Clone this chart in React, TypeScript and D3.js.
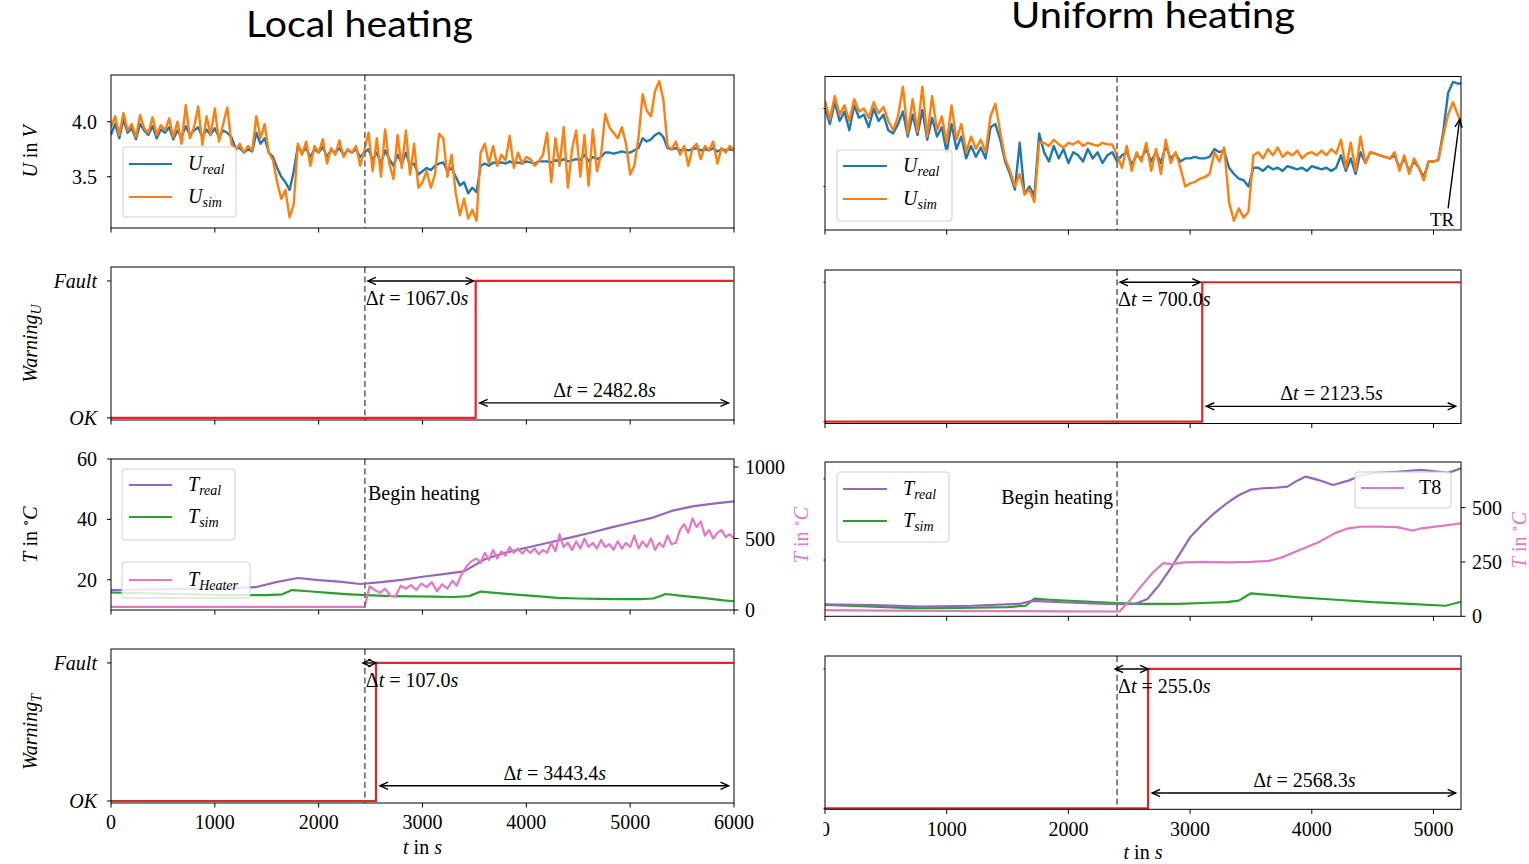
import React from "react";
import * as d3 from "d3";

type Pt = [number, number];

// ---------------- data ----------------
const SAMPLE_STEP_S = 40;

// Local heating: cell voltage (V), one value every 40 s from t = 0
const uRealLocal: number[] = [
  3.88, 3.98, 3.85, 4.02, 3.90, 3.94, 3.84, 3.98, 3.92, 3.88, 3.96, 3.85, 3.93, 3.90, 3.95, 3.84,
  3.92, 3.86, 3.96, 3.88, 3.92, 3.95, 3.86, 3.93, 3.88, 3.94, 3.86, 3.92, 3.90, 3.86,
  3.76,
  3.76, 3.72, 3.75, 3.73,
  3.90, 3.80, 3.85, 3.72, 3.68,
  3.58, 3.50, 3.45, 3.38, 3.55,
  3.78,
  3.72, 3.76, 3.68, 3.75, 3.72, 3.77, 3.68, 3.74, 3.72, 3.76, 3.70, 3.74, 3.72, 3.75, 3.68, 3.72,
  3.75, 3.65, 3.72, 3.62, 3.74, 3.66, 3.60, 3.70, 3.62, 3.72, 3.60, 3.62, 3.52,
  3.55, 3.58, 3.56, 3.60,
  3.62, 3.63,
  3.55, 3.58,
  3.50, 3.42, 3.45, 3.35, 3.40, 3.36,
  3.60, 3.62, 3.60, 3.63,
  3.62, 3.63, 3.62, 3.64, 3.62, 3.63, 3.62, 3.64, 3.63, 3.62, 3.64, 3.64,
  3.64, 3.63, 3.65, 3.64, 3.66, 3.64, 3.65, 3.66, 3.65, 3.70, 3.64, 3.68, 3.66, 3.68,
  3.72, 3.72, 3.71, 3.72, 3.73, 3.72, 3.72, 3.74,
  3.76, 3.85, 3.82, 3.84, 3.88, 3.90, 3.86, 3.76,
  3.75, 3.76, 3.74, 3.75, 3.74, 3.75, 3.76, 3.74, 3.75, 3.74, 3.76, 3.73, 3.75, 3.74, 3.75, 3.74,
];
const uSimLocal: number[] = [
  3.95, 4.05, 3.88, 4.08, 3.92, 3.98, 3.86, 4.06, 3.94, 3.90, 4.04, 3.88, 3.97, 3.92, 4.03, 3.86,
  4.00, 3.80, 4.15, 3.85, 3.95, 4.14, 3.79, 4.05, 3.88, 4.12, 3.82, 3.98, 4.13, 3.80,
  3.74,
  3.80, 3.72, 3.78, 3.74,
  4.05, 3.85, 3.98, 3.72, 3.65,
  3.45, 3.30, 3.38, 3.13, 3.25,
  3.80,
  3.70, 3.82, 3.60, 3.78, 3.72, 3.84, 3.62, 3.76, 3.70, 3.83, 3.68, 3.75, 3.72, 3.78, 3.60, 3.74,
  3.90, 3.55, 3.85, 3.50, 3.93, 3.62, 3.48, 3.88, 3.58, 3.92, 3.52, 3.80, 3.40,
  3.45, 3.55, 3.40, 3.52,
  3.89, 3.85,
  3.50, 3.70,
  3.35, 3.15, 3.30, 3.12, 3.20, 3.10,
  3.72, 3.80, 3.62, 3.78,
  3.60, 3.70, 3.65, 3.87, 3.58, 3.72, 3.62, 3.68, 3.66, 3.60, 3.64, 3.70,
  3.90, 3.45, 3.85, 3.60, 3.95, 3.40, 3.75, 3.92, 3.50, 3.88, 3.42, 3.93, 3.55, 3.70,
  4.07, 3.95, 3.90, 3.85, 3.95, 3.80, 3.52, 3.60,
  3.85, 4.25, 4.10, 4.05, 4.28, 4.37, 4.20, 3.78,
  3.75, 3.82, 3.70, 3.78, 3.60, 3.76, 3.80, 3.66, 3.78, 3.74, 3.82, 3.62, 3.76, 3.72, 3.78, 3.74,
];

// Uniform heating: cell voltage (V), one value every 40 s from t = 0
const uRealUniform: number[] = [
  4.00, 3.90, 4.04, 3.92, 3.98, 3.86, 4.02, 3.94, 3.96, 3.88, 4.00, 3.92, 3.96, 3.86,
  3.84, 3.90,
  3.98, 3.82, 3.96, 3.83, 3.99, 3.80, 3.94, 3.82,
  3.88, 3.72, 3.90, 3.74, 3.82,
  3.68, 3.76, 3.69, 3.75, 3.68,
  3.88, 3.90, 3.80,
  3.66,
  3.58, 3.48, 3.78, 3.45, 3.50, 3.44,
  3.84,
  3.72, 3.66, 3.76, 3.68, 3.74, 3.65, 3.72, 3.70, 3.66, 3.74, 3.68, 3.72, 3.65, 3.70, 3.72,
  3.66, 3.70, 3.72, 3.64, 3.70,
  3.68, 3.74, 3.66, 3.72, 3.65, 3.76, 3.68, 3.71, 3.66,
  3.68,
  3.68, 3.69, 3.68, 3.68, 3.69,
  3.74, 3.72, 3.73,
  3.62, 3.58, 3.55, 3.54, 3.50,
  3.62,
  3.62, 3.60, 3.63, 3.61, 3.62, 3.60, 3.63, 3.62, 3.61, 3.62, 3.60, 3.63, 3.62, 3.61, 3.62, 3.60, 3.62,
  3.70, 3.60, 3.68, 3.58, 3.72, 3.65,
  3.72, 3.71, 3.70, 3.69, 3.68,
  3.70, 3.62, 3.68, 3.60, 3.66, 3.62, 3.56,
  3.66, 3.66, 3.67,
  3.85, 4.10, 4.17, 4.16, 4.16,
];
const uSimUniform: number[] = [
  4.05, 3.93, 4.08, 3.96, 4.02, 3.92, 4.06, 3.98, 4.00, 3.94, 4.04, 3.97, 4.01, 3.92,
  3.86, 3.95,
  4.14, 3.84, 4.06, 3.85, 4.14, 3.82, 4.08, 3.86,
  3.95, 3.78, 4.02, 3.80, 3.90,
  3.72, 3.82, 3.74, 3.80, 3.72,
  3.95, 4.03, 3.85,
  3.68,
  3.60, 3.50, 3.58, 3.45, 3.48, 3.40,
  3.78,
  3.78, 3.76, 3.80, 3.77, 3.75, 3.78, 3.77, 3.79, 3.76, 3.78, 3.77, 3.76, 3.78, 3.77, 3.77,
  3.70, 3.62, 3.76, 3.60, 3.72,
  3.66, 3.78, 3.60, 3.74, 3.58, 3.80, 3.65, 3.72, 3.62,
  3.50,
  3.52, 3.53, 3.55, 3.56, 3.58,
  3.72, 3.66, 3.75,
  3.40, 3.28, 3.36, 3.30, 3.34,
  3.70,
  3.72, 3.68, 3.74, 3.70, 3.75, 3.69, 3.72, 3.70, 3.73, 3.68, 3.71, 3.72, 3.70, 3.73, 3.70, 3.74, 3.71,
  3.80, 3.62, 3.78, 3.60, 3.82, 3.65,
  3.72, 3.71, 3.70, 3.69, 3.68,
  3.72, 3.60, 3.70, 3.58, 3.68, 3.62, 3.54,
  3.66, 3.66, 3.67,
  3.82, 3.96, 4.04, 3.96, 3.88,
];

// Temperatures: [t in s, value]
const tRealLocal: Pt[] = [
  [0, 16.6], [200, 16.7], [400, 16.8], [600, 16.9], [800, 17.0], [1000, 17.1], [1200, 17.3],
  [1400, 17.6], [1600, 19.3], [1800, 20.6], [2000, 19.9], [2200, 19.4], [2400, 18.6], [2600, 19.2],
  [2800, 20.0], [3000, 21.0], [3200, 21.9], [3400, 22.8], [3600, 26.8], [3800, 29.0], [4000, 30.6],
  [4200, 32.2], [4400, 33.8], [4600, 35.4], [4800, 37.2], [5000, 38.8], [5200, 40.4], [5400, 42.8],
  [5600, 44.3], [5800, 45.2], [6000, 46.0],
];
const tSimLocal: Pt[] = [
  [0, 15.8], [300, 15.6], [600, 15.3], [900, 15.1], [1200, 14.9], [1500, 14.9], [1650, 15.2],
  [1745, 16.6], [1900, 16.2], [2100, 15.7], [2300, 15.2], [2460, 14.9], [2700, 14.6], [2900, 14.5],
  [3100, 14.4], [3300, 14.3], [3450, 14.6], [3560, 16.1], [3700, 15.7], [3900, 15.1], [4100, 14.6],
  [4300, 14.0], [4500, 13.8], [4700, 13.7], [4900, 13.6], [5100, 13.6], [5220, 13.8], [5300, 14.7],
  [5340, 15.3], [5500, 14.7], [5700, 14.0], [5900, 13.2], [6000, 12.9],
];
const tHeaterLocal: Pt[] = [
  [0, 22], [2445, 22], [2490, 165], [2540, 140], [2590, 120], [2640, 150], [2690, 100], [2740, 95],
  [2790, 170], [2840, 150], [2890, 175], [2940, 140], [2990, 185], [3040, 160], [3090, 195],
  [3140, 130], [3190, 180], [3240, 150], [3290, 205], [3330, 170], [3370, 240], [3420, 300],
  [3470, 340], [3520, 360], [3560, 330], [3600, 400], [3640, 350], [3680, 420], [3720, 360],
  [3760, 410], [3800, 380], [3840, 440], [3880, 400], [3920, 430], [3960, 395], [4000, 425],
  [4040, 400], [4080, 430], [4120, 390], [4160, 420], [4200, 400], [4240, 470], [4280, 410],
  [4320, 530], [4360, 440], [4400, 470], [4440, 420], [4480, 480], [4520, 430], [4560, 500],
  [4600, 440], [4640, 470], [4680, 430], [4720, 490], [4760, 440], [4800, 460], [4840, 420],
  [4880, 480], [4920, 430], [4960, 470], [5000, 440], [5040, 520], [5080, 430], [5120, 480],
  [5160, 440], [5200, 500], [5240, 420], [5280, 470], [5320, 440], [5360, 520], [5400, 460],
  [5440, 470], [5480, 560], [5520, 600], [5560, 540], [5600, 640], [5640, 580], [5680, 620],
  [5720, 520], [5760, 560], [5800, 500], [5840, 540], [5880, 560], [5920, 510], [5960, 530],
  [6000, 500],
];
const tRealUniform: Pt[] = [
  [0, 22.7], [400, 22.2], [800, 21.3], [1200, 21.8], [1600, 23.0], [1700, 24.8], [1800, 24.5],
  [2000, 23.8], [2200, 23.2], [2400, 22.8], [2550, 23.0], [2650, 26], [2750, 35], [2850, 46],
  [2950, 58], [3000, 64], [3100, 72], [3200, 79], [3300, 85], [3400, 90], [3500, 93.5],
  [3600, 94.3], [3700, 94.6], [3800, 95.3], [3880, 99], [3950, 101.5], [4050, 99.5], [4175, 96.3],
  [4300, 99], [4400, 102], [4500, 103.6], [4700, 104.5], [4900, 105.6], [5050, 104.5],
  [5120, 103.8], [5226, 106.6],
];
const tSimUniform: Pt[] = [
  [0, 22.3], [300, 21.5], [700, 20.4], [1100, 20.5], [1500, 21.0], [1650, 21.8], [1720, 26.2],
  [1850, 25.5], [2100, 24.5], [2400, 23.5], [2600, 23.0], [2900, 23.0], [3100, 23.5], [3300, 24.0],
  [3400, 25.0], [3500, 29.5], [3650, 28.5], [3900, 27.0], [4200, 25.5], [4500, 24.0], [4800, 23.0],
  [5100, 21.8], [5226, 24.3],
];
const t8Uniform: Pt[] = [
  [0, 28], [500, 26], [1000, 25], [1500, 24], [2000, 23], [2420, 22], [2500, 70], [2600, 140],
  [2700, 205], [2780, 245], [2850, 240], [2950, 248], [3100, 250], [3300, 248], [3500, 250],
  [3650, 255], [3750, 270], [3900, 305], [4050, 340], [4200, 385], [4300, 405], [4400, 412],
  [4550, 413], [4700, 410], [4830, 395], [4900, 405], [5050, 415], [5226, 428],
];

// Events (s)
const heatStartLocal = 2445;
const warnUDelayLocal = 1067.0;
const warnURestLocal = 2482.8;
const warnTDelayLocal = 107.0;
const warnTRestLocal = 3443.4;
const heatStartUniform = 2400;
const warnUDelayUniform = 700.0;
const warnURestUniform = 2123.5;
const warnTDelayUniform = 255.0;
const warnTRestUniform = 2568.3;

// Ticks
const xTicksLocal = [0, 1000, 2000, 3000, 4000, 5000, 6000];
const xTicksUniform = [0, 1000, 2000, 3000, 4000, 5000];
const uTicks = [3.5, 4.0];
const tTicksLocal = [20, 40, 60];
const tHeaterTicksLocal = [0, 500, 1000];
const tTicksUniform = [50, 100];
const t8Ticks = [0, 250, 500];
const warnTicks = [0, 1];
const warnTickLabels = ["OK", "Fault"];

// ---------------- styles ----------------
const SERIF = "'Liberation Serif', 'DejaVu Serif', serif";
const SANS = "Lato, 'Open Sans', 'Noto Sans', sans-serif";
const C = {
  blue: "#1f77b4",
  orange: "#ff7f0e",
  purple: "#9467bd",
  green: "#2ca02c",
  pink: "#e377c2",
  red: "#e3242b",
  dash: "#727272",
};
const FS = 20;

function ArrowHead({ x, y, dx, dy, len = 8, half = 3.6 }: { x: number; y: number; dx: number; dy: number; len?: number; half?: number }) {
  const n = Math.hypot(dx, dy);
  const ux = dx / n, uy = dy / n;
  const bx = x - ux * len, by = y - uy * len;
  const px = -uy * half, py = ux * half;
  return <path d={`M${bx + px},${by + py}L${x},${y}L${bx - px},${by - py}`} fill="none" stroke="#000" strokeWidth={1.4} />;
}

function DoubleArrow({ x1, x2, y }: { x1: number; x2: number; y: number }) {
  return (
    <g>
      <line x1={x1} x2={x2} y1={y} y2={y} stroke="#000" strokeWidth={1.4} />
      <ArrowHead x={x1} y={y} dx={-1} dy={0} />
      <ArrowHead x={x2} y={y} dx={1} dy={0} />
    </g>
  );
}

function DeltaText({ x, y, value, anchor }: { x: number; y: number; value: number; anchor: "start" | "middle" }) {
  return (
    <text x={x} y={y} textAnchor={anchor} fontFamily={SERIF} fontSize={20} fill="#000">
      <tspan>Δ</tspan>
      <tspan fontStyle="italic">t</tspan>
      <tspan>{" = "}</tspan>
      <tspan>{value.toFixed(1)}</tspan>
      <tspan fontStyle="italic">s</tspan>
    </text>
  );
}

interface LegendItem { color: string; base: string; sub?: string; y: number }
function Legend({ x, y, w, h, lx0, lx1, tx, items }: { x: number; y: number; w: number; h: number; lx0: number; lx1: number; tx: number; items: LegendItem[] }) {
  return (
    <g>
      <rect x={x} y={y} width={w} height={h} rx={3} fill="#fff" fillOpacity={0.82} stroke="#cfcfcf" strokeWidth={1} />
      {items.map((it, i) => (
        <g key={i}>
          <line x1={lx0} x2={lx1} y1={it.y} y2={it.y} stroke={it.color} strokeWidth={2.2} />
          <text x={tx} y={it.y + 6} fontFamily={SERIF} fontSize={20} fill="#000">
            <tspan fontStyle={it.sub ? "italic" : "normal"}>{it.base}</tspan>
            {it.sub ? <tspan fontStyle="italic" fontSize={14} dy={4}>{it.sub}</tspan> : null}
          </text>
        </g>
      ))}
    </g>
  );
}

interface FigProps {
  id: string;
  x0: number; x1: number; tMax: number; xTicks: number[];
  uBox: [number, number]; uDomain: [number, number];
  wuBox: [number, number]; wuDomain: [number, number];
  tBox: [number, number]; tDomain: [number, number]; t2Domain: [number, number];
  wtBox: [number, number]; wtDomain: [number, number];
  tTicks: number[]; t2Ticks: number[];
  uReal: number[]; uSim: number[];
  tReal: Pt[]; tSim: Pt[]; tHot: Pt[];
  heatStart: number; wuDelay: number; wuRest: number; wtDelay: number; wtRest: number;
  showLeftLabels: boolean;
  xTickLabelY: number; xLabelY: number; rightLabelX: number; rightLabelY: number;
  beginText: { x: number; y: number; anchor: "start" | "end" };
  children?: React.ReactNode;
}

function Figure(p: FigProps) {
  const x = d3.scaleLinear().domain([0, p.tMax]).range([p.x0, p.x1]);
  const yU = d3.scaleLinear().domain(p.uDomain).range([p.uBox[1], p.uBox[0]]);
  const yWU = d3.scaleLinear().domain(p.wuDomain).range([p.wuBox[1], p.wuBox[0]]);
  const yT = d3.scaleLinear().domain(p.tDomain).range([p.tBox[1], p.tBox[0]]);
  const yT2 = d3.scaleLinear().domain(p.t2Domain).range([p.tBox[1], p.tBox[0]]);
  const yWT = d3.scaleLinear().domain(p.wtDomain).range([p.wtBox[1], p.wtBox[0]]);

  const series = (vals: number[]): Pt[] => vals.map((v, i) => [i * SAMPLE_STEP_S, v] as Pt);
  const mk = (ys: d3.ScaleLinear<number, number>) => d3.line<Pt>().x((d) => x(d[0])).y((d) => ys(d[1]));
  const stepPts = (delay: number, rest: number): Pt[] => {
    const ts = p.heatStart + delay;
    return [[0, 0], [ts, 0], [ts, 1], [ts + rest, 1]];
  };

  const boxes: [number, number][] = [p.uBox, p.wuBox, p.tBox, p.wtBox];
  const clip = (i: number) => `url(#${p.id}-clip${i})`;
  const xh = x(p.heatStart);
  const tsU = x(p.heatStart + p.wuDelay);
  const tsT = x(p.heatStart + p.wtDelay);
  const endU = Math.min(x(p.heatStart + p.wuDelay + p.wuRest), p.x1);
  const endT = Math.min(x(p.heatStart + p.wtDelay + p.wtRest), p.x1);
  const arrowLevel = 0.11;

  const leftTick = (y: number, label: string | null, key: string, italic = false) => (
    <g key={key}>
      <line x1={p.x0 - 4} x2={p.x0} y1={y} y2={y} stroke="#000" strokeWidth={1} />
      {p.showLeftLabels && label !== null ? (
        <text x={p.x0 - 14} y={y} dy="0.35em" textAnchor="end" fontFamily={SERIF} fontSize={FS} fontStyle={italic ? "italic" : "normal"}>{label}</text>
      ) : null}
    </g>
  );

  const midY = (b: [number, number]) => (b[0] + b[1]) / 2;
  const yLabel = (b: [number, number], content: React.ReactNode, key: string, dyOff = 0) =>
    p.showLeftLabels ? (
      <text key={key} transform={`translate(30,${midY(b) + dyOff}) rotate(-90)`} textAnchor="middle" dy="0.35em" fontFamily={SERIF} fontSize={20}>
        {content}
      </text>
    ) : null;

  return (
    <g>
      <defs>
        {boxes.map((b, i) => (
          <clipPath id={`${p.id}-clip${i}`} key={i}>
            <rect x={p.x0} y={b[0]} width={p.x1 - p.x0} height={b[1] - b[0]} />
          </clipPath>
        ))}
      </defs>

      {/* U panel */}
      <g clipPath={clip(0)}>
        <path d={mk(yU)(series(p.uReal)) || ""} fill="none" stroke={C.blue} strokeWidth={2.4} strokeLinejoin="round" />
        <path d={mk(yU)(series(p.uSim)) || ""} fill="none" stroke={C.orange} strokeWidth={2.4} strokeLinejoin="round" />
      </g>
      {/* Warning U */}
      <g clipPath={clip(1)}>
        <path d={mk(yWU)(stepPts(p.wuDelay, p.wuRest)) || ""} fill="none" stroke={C.red} strokeWidth={2.2} />
      </g>
      {/* Temperatures */}
      <g clipPath={clip(2)}>
        <path d={mk(yT)(p.tSim) || ""} fill="none" stroke={C.green} strokeWidth={2.2} strokeLinejoin="round" />
        <path d={mk(yT)(p.tReal) || ""} fill="none" stroke={C.purple} strokeWidth={2.2} strokeLinejoin="round" />
        <path d={mk(yT2)(p.tHot) || ""} fill="none" stroke={C.pink} strokeWidth={2.2} strokeLinejoin="round" />
      </g>
      {/* Warning T */}
      <g clipPath={clip(3)}>
        <path d={mk(yWT)(stepPts(p.wtDelay, p.wtRest)) || ""} fill="none" stroke={C.red} strokeWidth={2.2} />
      </g>

      {/* dashed heating start */}
      {boxes.map((b, i) => (
        <line key={i} x1={xh} x2={xh} y1={b[0]} y2={b[1]} stroke={C.dash} strokeWidth={1.7} strokeDasharray="6,3.5" />
      ))}

      {/* frames and x ticks */}
      {boxes.map((b, i) => (
        <g key={i}>
          <rect x={p.x0} y={b[0]} width={p.x1 - p.x0} height={b[1] - b[0]} fill="none" stroke="#000" strokeWidth={1} />
          {p.xTicks.map((t) => (
            <line key={t} x1={x(t)} x2={x(t)} y1={b[1]} y2={b[1] + 4.5} stroke="#000" strokeWidth={1} />
          ))}
        </g>
      ))}
      {p.xTicks.map((t) => (
        <text key={t} x={x(t)} y={p.xTickLabelY} textAnchor="middle" fontFamily={SERIF} fontSize={FS}>{t}</text>
      ))}
      <text x={(p.x0 + p.x1) / 2} y={p.xLabelY} textAnchor="middle" fontFamily={SERIF} fontSize={20}>
        <tspan fontStyle="italic">t</tspan>
        <tspan>{" in "}</tspan>
        <tspan fontStyle="italic">s</tspan>
      </text>

      {/* left ticks */}
      {uTicks.map((v) => leftTick(yU(v), v.toFixed(1), `u${v}`))}
      {warnTicks.map((v, i) => leftTick(yWU(v), warnTickLabels[i], `wu${v}`, true))}
      {p.tTicks.map((v) => leftTick(yT(v), String(v), `t${v}`))}
      {warnTicks.map((v, i) => leftTick(yWT(v), warnTickLabels[i], `wt${v}`, true))}

      {/* right ticks on temperature panel */}
      {p.t2Ticks.map((v) => (
        <g key={`t2${v}`}>
          <line x1={p.x1} x2={p.x1 + 4.5} y1={yT2(v)} y2={yT2(v)} stroke="#000" strokeWidth={1} />
          <text x={p.x1 + 11} y={yT2(v)} dy="0.35em" fontFamily={SERIF} fontSize={FS}>{v}</text>
        </g>
      ))}
      <text transform={`translate(${p.rightLabelX},${p.rightLabelY}) rotate(-90)`} textAnchor="middle" dy="0.35em" fontFamily={SERIF} fontSize={20} fill={C.pink}>
        <tspan fontStyle="italic">T</tspan>
        <tspan>{" in "}</tspan>
        <tspan fontSize={13} dy={-7}>∘</tspan>
        <tspan fontStyle="italic" dy={7}>C</tspan>
      </text>

      {/* y labels */}
      {yLabel(p.uBox, [<tspan key="a" fontStyle="italic">U</tspan>, <tspan key="b">{" in "}</tspan>, <tspan key="c" fontStyle="italic">V</tspan>], "lu")}
      {yLabel(p.wuBox, [<tspan key="a" fontStyle="italic">Warning</tspan>, <tspan key="b" fontStyle="italic" fontSize={14} dy={4}>U</tspan>], "lwu")}
      {yLabel(p.tBox, [<tspan key="a" fontStyle="italic">T</tspan>, <tspan key="b">{" in "}</tspan>, <tspan key="c" fontSize={13} dy={-7}>∘</tspan>, <tspan key="d" fontStyle="italic" dy={7}>C</tspan>], "lt")}
      {yLabel(p.wtBox, [<tspan key="a" fontStyle="italic">Warning</tspan>, <tspan key="b" fontStyle="italic" fontSize={14} dy={4}>T</tspan>], "lwt", 6)}

      {/* Warning annotations */}
      <DoubleArrow x1={xh + 3} x2={tsU - 2} y={yWU(1)} />
      <DeltaText x={xh + 1} y={yWU(1) + 24} value={p.wuDelay} anchor="start" />
      <DoubleArrow x1={tsU + 4} x2={endU - 5} y={yWU(arrowLevel)} />
      <DeltaText x={(tsU + endU) / 2} y={yWU(arrowLevel) - 6} value={p.wuRest} anchor="middle" />

      <DoubleArrow x1={xh - 2} x2={tsT} y={yWT(1)} />
      <DeltaText x={xh + 1} y={yWT(1) + 24} value={p.wtDelay} anchor="start" />
      <DoubleArrow x1={tsT + 4} x2={endT - 5} y={yWT(arrowLevel)} />
      <DeltaText x={(tsT + endT) / 2} y={yWT(arrowLevel) - 6} value={p.wtRest} anchor="middle" />

      <text x={p.beginText.x} y={p.beginText.y} textAnchor={p.beginText.anchor} fontFamily={SERIF} fontSize={20}>Begin heating</text>

      {p.children}
    </g>
  );
}

export default function App() {
  // TR annotation for the uniform U panel (data coordinates)
  const xR = d3.scaleLinear().domain([0, 5226]).range([825, 1461]);
  const yUR = d3.scaleLinear().domain([3.221, 4.205]).range([230, 76.5]);
  const trTip: Pt = [5215, 3.93];
  const trTail: Pt = [5120, 3.36];
  const tipX = xR(trTip[0]), tipY = yUR(trTip[1]);
  const tailX = xR(trTail[0]), tailY = yUR(trTail[1]);

  return (
    <svg width={1529} height={864} style={{ position: "absolute", left: 0, top: 0, background: "#fff" }}>
      <rect width={1529} height={864} fill="#fff" />
      <text x={359.5} y={37} textAnchor="middle" fontFamily={SANS} fontSize={36} textLength={227} lengthAdjust="spacingAndGlyphs">Local heating</text>
      <text x={1153} y={28} textAnchor="middle" fontFamily={SANS} fontSize={36} textLength={284} lengthAdjust="spacingAndGlyphs">Uniform heating</text>

      <Figure
        id="loc"
        x0={111} x1={734} tMax={6000} xTicks={xTicksLocal}
        uBox={[75, 228]} uDomain={[3.034, 4.425]}
        wuBox={[267, 420]} wuDomain={[-0.015, 1.102]}
        tBox={[459, 610]} tDomain={[10, 60]} t2Domain={[0, 1056]}
        wtBox={[649, 803]} wtDomain={[-0.0145, 1.101]}
        tTicks={tTicksLocal} t2Ticks={tHeaterTicksLocal}
        uReal={uRealLocal} uSim={uSimLocal}
        tReal={tRealLocal} tSim={tSimLocal} tHot={tHeaterLocal}
        heatStart={heatStartLocal} wuDelay={warnUDelayLocal} wuRest={warnURestLocal}
        wtDelay={warnTDelayLocal} wtRest={warnTRestLocal}
        showLeftLabels={true}
        xTickLabelY={829} xLabelY={854} rightLabelX={801} rightLabelY={535}
        beginText={{ x: 368, y: 500, anchor: "start" }}
      >
        <Legend x={123} y={147} w={113} h={70} lx0={129} lx1={172} tx={188}
          items={[{ color: C.blue, base: "U", sub: "real", y: 164 }, { color: C.orange, base: "U", sub: "sim", y: 197 }]} />
        <Legend x={122} y={469} w={113} h={71} lx0={129} lx1={172} tx={188}
          items={[{ color: C.purple, base: "T", sub: "real", y: 485 }, { color: C.green, base: "T", sub: "sim", y: 517 }]} />
        <Legend x={122} y={562} w={128} h={36} lx0={129} lx1={172} tx={188}
          items={[{ color: C.pink, base: "T", sub: "Heater", y: 580 }]} />
      </Figure>

      <defs>
        <clipPath id="rightFigClip">
          <rect x={823.5} y={0} width={706} height={864} />
        </clipPath>
      </defs>
      <g clipPath="url(#rightFigClip)">
        <Figure
          id="uni"
          x0={825} x1={1461} tMax={5226} xTicks={xTicksUniform}
          uBox={[76.5, 230]} uDomain={[3.221, 4.205]}
          wuBox={[270, 423.5]} wuDomain={[-0.013, 1.088]}
          tBox={[462, 616.3]} tDomain={[15.3, 110.5]} t2Domain={[0, 710]}
          wtBox={[656, 809.3]} wtDomain={[-0.007, 1.093]}
          tTicks={tTicksUniform} t2Ticks={t8Ticks}
          uReal={uRealUniform} uSim={uSimUniform}
          tReal={tRealUniform} tSim={tSimUniform} tHot={t8Uniform}
          heatStart={heatStartUniform} wuDelay={warnUDelayUniform} wuRest={warnURestUniform}
          wtDelay={warnTDelayUniform} wtRest={warnTRestUniform}
          showLeftLabels={false}
          xTickLabelY={836} xLabelY={859} rightLabelX={1519} rightLabelY={540}
          beginText={{ x: 1113, y: 504, anchor: "end" }}
        >
          <Legend x={837} y={150} w={115} h={71} lx0={843} lx1={887} tx={903}
            items={[{ color: C.blue, base: "U", sub: "real", y: 166 }, { color: C.orange, base: "U", sub: "sim", y: 199 }]} />
          <Legend x={837} y={472} w={112} h={70} lx0={843} lx1={887} tx={903}
            items={[{ color: C.purple, base: "T", sub: "real", y: 489 }, { color: C.green, base: "T", sub: "sim", y: 521 }]} />
          <Legend x={1355} y={472} w={96} h={36} lx0={1361} lx1={1404} tx={1419}
            items={[{ color: C.pink, base: "T8", y: 488 }]} />
          <line x1={tailX} y1={tailY} x2={tipX} y2={tipY} stroke="#000" strokeWidth={1.4} />
          <ArrowHead x={tipX} y={tipY} dx={tipX - tailX} dy={tipY - tailY} />
          <text x={tailX - 6} y={tailY + 18} textAnchor="middle" fontFamily={SERIF} fontSize={19}>TR</text>
        </Figure>
      </g>
    </svg>
  );
}
